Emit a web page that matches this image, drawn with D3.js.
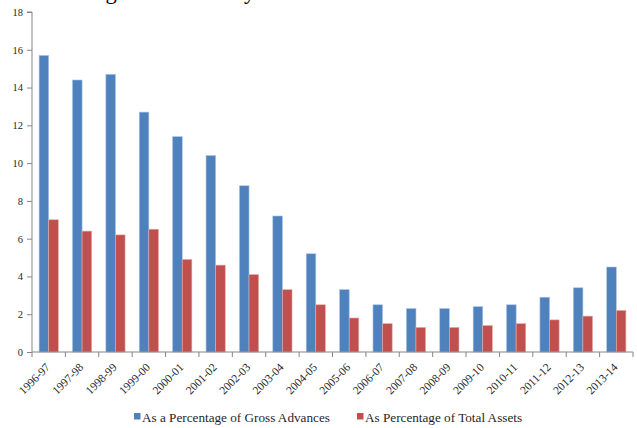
<!DOCTYPE html>
<html>
<head>
<meta charset="utf-8">
<script src="https://cdn.jsdelivr.net/npm/d3@7"></script>
<style>
  html, body { margin: 0; padding: 0; background: #fff; }
  svg { display: block; }
  text { font-family: "Liberation Serif", "Times New Roman", serif; }
</style>
</head>
<body>
<svg id="chart" width="637" height="428"></svg>
<script>
const categories = ["1996-97","1997-98","1998-99","1999-00","2000-01","2001-02","2002-03","2003-04","2004-05","2005-06","2006-07","2007-08","2008-09","2009-10","2010-11","2011-12","2012-13","2013-14"];
const grossAdvances = [15.7,14.4,14.7,12.7,11.4,10.4,8.8,7.2,5.2,3.3,2.5,2.3,2.3,2.4,2.5,2.9,3.4,4.5];
const totalAssets = [7.0,6.4,6.2,6.5,4.9,4.6,4.1,3.3,2.5,1.8,1.5,1.3,1.3,1.4,1.5,1.7,1.9,2.2];
const seriesNames = ["As a Percentage of Gross Advances","As Percentage of Total Assets"];
const seriesColors = ["#4F81BD","#C0504D"];
const yTicks = [0,2,4,6,8,10,12,14,16,18];
const titleText = "Declining NPA Ratios by Year";

(function () {
const svg = d3.select("#chart");
const mLeft = 32, mRight = 633, mTop = 12, mBottom = 352;

// cropped title at the top edge (only descenders visible, as in the reference)
svg.append("text").attr("x", 28).attr("y", -1)
  .attr("font-size", 22.5).attr("fill", "#000").text(titleText);

const y = d3.scaleLinear().domain([0, 18]).range([mBottom, mTop]);
const x0 = d3.scaleBand().domain(categories).range([mLeft, mRight]).padding(0);
const x1 = d3.scaleBand().domain(seriesNames).range([0, x0.bandwidth()])
  .paddingInner(0).paddingOuter(0.74);

const data = categories.map((c, i) => ({cat: c, vals: [grossAdvances[i], totalAssets[i]]}));

const groups = svg.append("g").selectAll("g").data(data).join("g")
  .attr("transform", d => `translate(${x0(d.cat)},0)`);
groups.selectAll("rect").data(d => d.vals.map((v, j) => ({v, j})))
  .join("rect")
  .attr("x", d => x1(seriesNames[d.j]))
  .attr("width", x1.bandwidth())
  .attr("y", d => y(d.v))
  .attr("height", d => y(0) - y(d.v))
  .attr("fill", d => seriesColors[d.j])
  .attr("stroke", d => d.j === 0 ? "#A9C2E3" : "#E3A9A7")
  .attr("stroke-width", 0.6);

// y axis
const yAxis = d3.axisLeft(y).tickValues(yTicks).tickSize(5).tickPadding(4).tickFormat(d3.format("d"));
const gy = svg.append("g").attr("transform", `translate(${mLeft},0)`).call(yAxis);
gy.select(".domain").attr("stroke", "#868686").attr("d", `M-5,${mTop}H0V${mBottom}`);
gy.selectAll(".tick line").attr("stroke", "#868686");
gy.selectAll(".tick text").style("font-family", "'Liberation Serif', serif").attr("font-size", 10.5).attr("fill", "#1f1f1f");

// x axis with ticks at category boundaries
const gx = svg.append("g").attr("transform", `translate(0,${mBottom})`);
gx.append("line").attr("x1", mLeft).attr("x2", mRight).attr("y1", 0).attr("y2", 0).attr("stroke", "#868686");
const bounds = categories.map(c => x0(c)).concat([mRight]);
gx.selectAll("line.tk").data(bounds).join("line").attr("class", "tk")
  .attr("x1", d => d).attr("x2", d => d).attr("y1", 0).attr("y2", 5).attr("stroke", "#868686");
gx.selectAll("text").data(categories).join("text")
  .attr("transform", c => `translate(${x0(c) + x0.bandwidth()/2 + 2},${16}) rotate(-45)`)
  .attr("text-anchor", "end")
  .attr("font-size", 11.5).attr("fill", "#1f1f1f")
  .text(c => c);

// legend
const legendX = [134, 357];
const lg = svg.append("g").selectAll("g").data(seriesNames).join("g")
  .attr("transform", (d, i) => `translate(${legendX[i]},413)`);
lg.append("rect").attr("width", 6.5).attr("height", 6.5).attr("fill", (d, i) => seriesColors[i]);
lg.append("text").attr("x", 8).attr("y", 8.5).attr("font-size", 13.2).attr("fill", "#1f1f1f").text(d => d);
})();
</script>
</body>
</html>
